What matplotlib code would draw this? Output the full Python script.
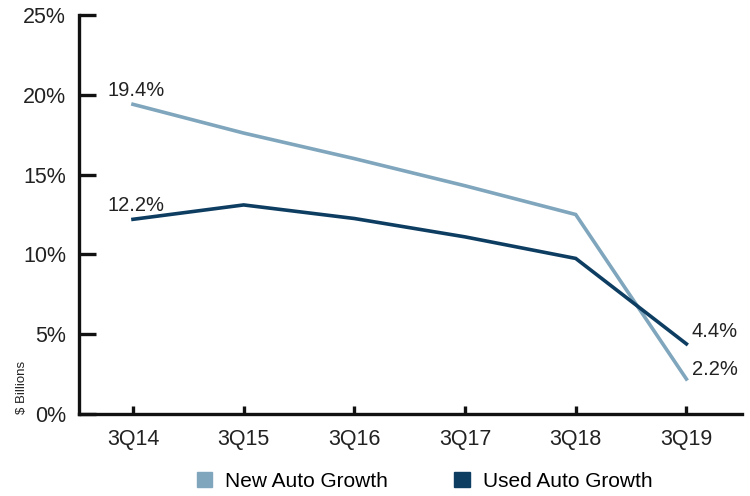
import matplotlib.pyplot as plt
from matplotlib.patches import Patch

quarters = ["3Q14", "3Q15", "3Q16", "3Q17", "3Q18", "3Q19"]
new_auto = [19.4, 17.6, 16.0, 14.3, 12.5, 2.2]
used_auto = [12.2, 13.1, 12.25, 11.1, 9.75, 4.4]

new_color = "#7fa6bd"
used_color = "#0e3d62"

plt.rcParams['font.family'] = ['Liberation Sans', 'DejaVu Sans']

fig = plt.figure(figsize=(7.5, 4.96), dpi=100)
ax = fig.add_axes([0.105, 0.165, 0.884, 0.805])

x = list(range(len(quarters)))
ax.plot(x, new_auto, color=new_color, lw=2.6, solid_joinstyle='miter')
ax.plot(x, used_auto, color=used_color, lw=2.6, solid_joinstyle='miter')

ax.set_xlim(-0.49, 5.5)
ax.set_ylim(0, 25)
ax.set_xticks(x)
ax.set_xticklabels(quarters)
ax.set_yticks([0, 5, 10, 15, 20, 25])
ax.set_yticklabels([f"{v}%" for v in [0, 5, 10, 15, 20, 25]])

for s in ["top", "right"]:
    ax.spines[s].set_visible(False)
for s in ["left", "bottom"]:
    ax.spines[s].set_linewidth(2.4)
    ax.spines[s].set_color("#111111")

ax.tick_params(axis='y', direction='in', length=12, width=2.4, labelsize=15.5, pad=9, colors="#111111")
ax.tick_params(axis='x', direction='in', length=6, width=2.4, labelsize=15.5, pad=11, colors="#111111")
for lab in ax.get_xticklabels() + ax.get_yticklabels():
    lab.set_color("#222222")

# value labels
lab_kw = dict(textcoords='offset points', fontsize=14.5, color="#222222", va='bottom')
ax.annotate(f"{new_auto[0]}%", (0, new_auto[0]), xytext=(-18, 3), **lab_kw)
ax.annotate(f"{used_auto[0]}%", (0, used_auto[0]), xytext=(-18, 3), **lab_kw)
ax.annotate(f"{used_auto[-1]}%", (5, used_auto[-1]), xytext=(4, 2), **lab_kw)
ax.annotate(f"{new_auto[-1]}%", (5, new_auto[-1]), xytext=(4, 0), **lab_kw)

fig.text(0.03, 0.165, "$ Billions", rotation=90, fontsize=9.5, color="#222222",
         ha='center', va='bottom')

handles = [Patch(color=new_color, label="New Auto Growth"),
           Patch(color=used_color, label="Used Auto Growth")]
fig.legend(handles=handles, loc='center', bbox_to_anchor=(0.566, 0.03), ncol=2,
           frameon=False, fontsize=15, handlelength=0.75, handleheight=0.75,
           handletextpad=0.6, columnspacing=3.2)

fig.savefig("out.png", dpi=100)
